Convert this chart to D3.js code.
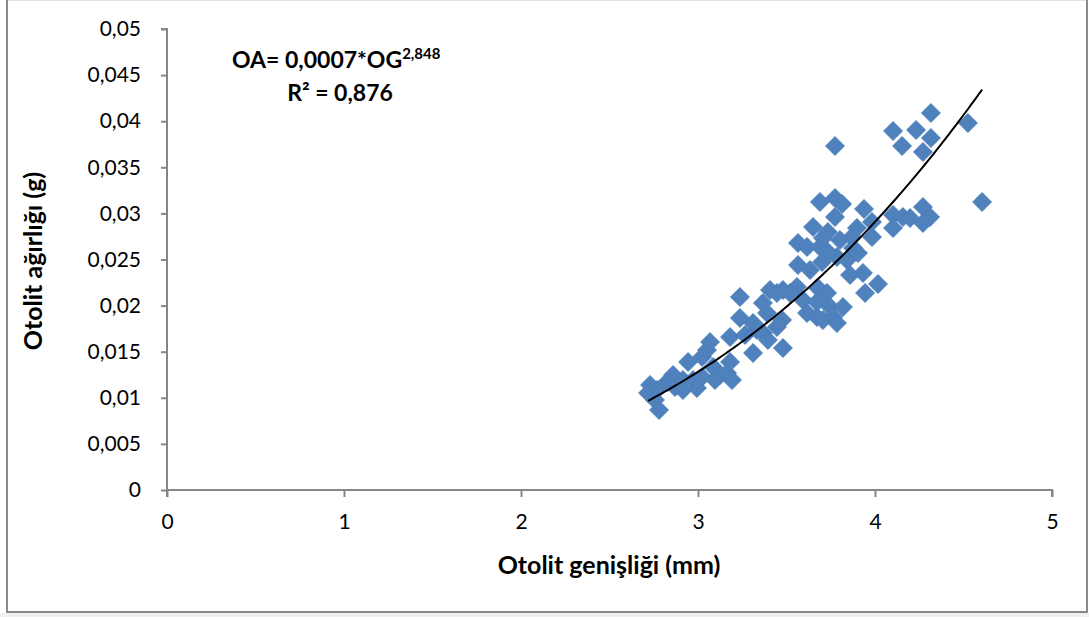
<!DOCTYPE html>
<html>
<head>
<meta charset="utf-8">
<script src="https://cdn.jsdelivr.net/npm/d3@7"></script>
<style>
  html, body { margin: 0; padding: 0; background: #ffffff; }
  svg { display: block; }
  text { font-family: Lato, "Open Sans", sans-serif; fill: #000; }
</style>
</head>
<body>
<svg id="chart" width="1089" height="617"></svg>
<script>
// Otolit genişliği (mm) ölçümleri
const otolitWidth = [
  2.729, 2.718, 2.780, 2.768, 2.757, 2.825, 2.859, 2.870, 2.915, 2.944,
  2.915, 2.972, 3.023, 3.023, 3.051, 3.068, 3.085, 2.994, 3.124, 3.164,
  3.192, 3.181, 3.181, 3.096, 3.266, 3.311, 3.333, 3.367, 3.395, 3.237,
  3.311, 3.237, 3.367, 3.390, 3.407, 3.446, 3.475, 3.480, 3.480, 3.559,
  3.593, 3.616, 3.672, 3.672, 3.706, 3.746, 3.763, 3.785, 3.819, 3.520,
  3.678, 3.729, 3.446, 3.944, 4.017, 3.859, 3.932, 3.565, 3.633, 3.701,
  3.785, 3.842, 3.565, 3.616, 3.689, 3.734, 3.876, 3.904, 3.734, 3.706,
  3.802, 3.898, 3.870, 3.983, 3.983, 3.650, 3.689, 3.774, 3.814, 3.774,
  3.938, 4.102, 4.158, 4.198, 4.102, 4.271, 4.311, 4.271, 4.605, 3.774,
  4.316, 4.525, 4.102, 4.232, 4.316, 4.153, 4.271
];
// Otolit ağırlığı (g) ölçümleri
const otolitWeight = [
  0.01139, 0.01052, 0.00868, 0.01085, 0.00976, 0.01171, 0.01247, 0.01117, 0.01085, 0.01388,
  0.01193, 0.01193, 0.01226, 0.01443, 0.01518, 0.01605, 0.01334, 0.01106, 0.01247, 0.01269,
  0.01193, 0.01388, 0.01659, 0.01193, 0.01681, 0.01486, 0.01735, 0.01703, 0.01627, 0.01866,
  0.01811, 0.02093, 0.02028, 0.01920, 0.02169, 0.01768, 0.01844, 0.01540, 0.02169, 0.02202,
  0.02061, 0.01920, 0.02039, 0.01876, 0.01844, 0.01985, 0.01876, 0.01811, 0.01985, 0.02137,
  0.02191, 0.02137, 0.02137, 0.02137, 0.02234, 0.02332, 0.02354, 0.02440, 0.02386, 0.02473,
  0.02527, 0.02495, 0.02679, 0.02636, 0.02636, 0.02581, 0.02625, 0.02570, 0.02798, 0.02733,
  0.02711, 0.02842, 0.02744, 0.02744, 0.02907, 0.02852, 0.03124, 0.03167, 0.03102, 0.02961,
  0.03048, 0.02983, 0.02961, 0.02950, 0.02842, 0.03069, 0.02961, 0.02896, 0.03124, 0.03731,
  0.04089, 0.03980, 0.03894, 0.03905, 0.03818, 0.03731, 0.03666
];

const xTicks = [0, 1, 2, 3, 4, 5];
const yTicks = [0, 0.005, 0.01, 0.015, 0.02, 0.025, 0.03, 0.035, 0.04, 0.045, 0.05];
const xTitle = "Otolit genişliği (mm)";
const yTitle = "Otolit ağırlığı (g)";
// Power trend: OA = a * OG^b
const trendExponent = 2.848;
const equationText = ["OA= 0,0007*OG", "2,848"];
const r2Text = "R² = 0,876";

const svg = d3.select("#chart");
const W = 1089, H = 617;
const plot = { left: 167, right: 1052, top: 29, bottom: 490 };

// Outer chart frame
svg.append("rect").attr("x", 0).attr("y", 613).attr("width", W).attr("height", 4).attr("fill", "#f0f0f0");
svg.append("rect")
  .attr("x", 7).attr("y", -1).attr("width", 1080).attr("height", 613)
  .attr("fill", "#fff").attr("stroke", "#8a8a8a").attr("stroke-width", 2);
svg.append("line").attr("x1", 8).attr("x2", 1086).attr("y1", 0.5).attr("y2", 0.5)
  .attr("stroke", "#e0e0e0").attr("stroke-width", 1);

const x = d3.scaleLinear().domain([0, 5]).range([plot.left, plot.right]);
const y = d3.scaleLinear().domain([0, 0.05]).range([plot.bottom, plot.top]);

const commaFmt = v => String(+v.toFixed(4)).replace(".", ",");

// Y axis
const yAxis = svg.append("g")
  .attr("transform", `translate(${plot.left},0)`)
  .call(d3.axisLeft(y).tickValues(yTicks).tickSize(6).tickPadding(20).tickFormat(commaFmt));
// X axis
const xAxis = svg.append("g")
  .attr("transform", `translate(0,${plot.bottom})`)
  .call(d3.axisBottom(x).tickValues(xTicks).tickSize(7).tickPadding(17).tickFormat(d => d));

[yAxis, xAxis].forEach(g => {
  g.select(".domain").attr("stroke", "#868686").attr("stroke-width", 2);
  g.selectAll(".tick line").attr("stroke", "#868686").attr("stroke-width", 2);
  g.selectAll(".tick text").attr("font-family", "Lato, sans-serif").attr("font-size", 21).attr("fill", "#000");
});
yAxis.select(".domain").attr("d", `M-6,${plot.top}H0V${plot.bottom}`);
xAxis.select(".domain").attr("d", `M${plot.left},7V0H${plot.right}V7`);

// Points
const points = otolitWidth.map((v, i) => ({ x: v, y: otolitWeight[i] }));
const diamond = d3.symbol().type(d3.symbolSquare).size(180);
svg.append("g").selectAll("path").data(points).join("path")
  .attr("d", diamond)
  .attr("transform", d => `translate(${x(d.x)},${y(d.y)}) rotate(45)`)
  .attr("fill", "#4f81bd")
  .attr("stroke", "#4a7ebb").attr("stroke-width", 0.8);

// Power trend line: coefficient fitted in log space with the given exponent
const lx = points.map(p => Math.log(p.x)), ly = points.map(p => Math.log(p.y));
const a = Math.exp(d3.mean(ly) - trendExponent * d3.mean(lx));
const [xmin, xmax] = d3.extent(otolitWidth);
const trend = d3.range(0, 101).map(i => {
  const xv = xmin + (xmax - xmin) * i / 100;
  return [xv, a * Math.pow(xv, trendExponent)];
});
svg.append("path")
  .attr("d", d3.line().x(d => x(d[0])).y(d => y(d[1]))(trend))
  .attr("fill", "none").attr("stroke", "#000").attr("stroke-width", 2);

// Equation label
const eq = svg.append("text").attr("x", 232).attr("y", 68)
  .attr("font-weight", "bold").attr("font-size", 23);
eq.append("tspan").text(equationText[0]);
eq.append("tspan").attr("dy", -9).attr("font-size", 15).text(equationText[1]);
svg.append("text").attr("x", 340).attr("y", 101).attr("text-anchor", "middle")
  .attr("font-weight", "bold").attr("font-size", 23).text(r2Text);

// Axis titles
svg.append("text").attr("x", 609).attr("y", 574).attr("text-anchor", "middle")
  .attr("font-weight", "bold").attr("font-size", 25).text(xTitle);
svg.append("text").attr("transform", "translate(42,261) rotate(-90)").attr("text-anchor", "middle")
  .attr("font-weight", "bold").attr("font-size", 25).text(yTitle);
</script>
</body>
</html>
